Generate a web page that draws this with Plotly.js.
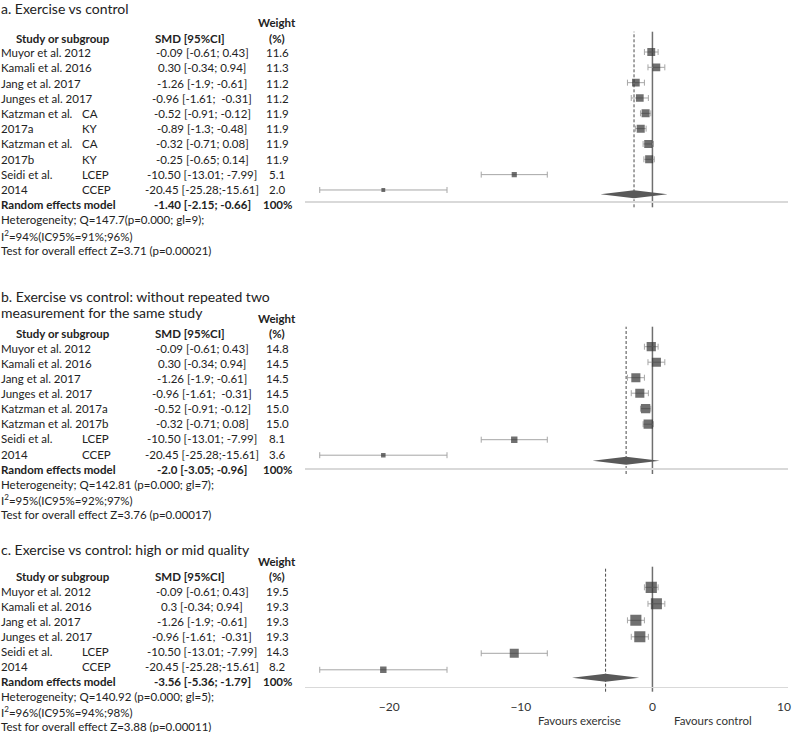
<!DOCTYPE html>
<html>
<head>
<meta charset="utf-8">
<script src="https://cdn.plot.ly/plotly-3.0.1.min.js"></script>
<style>html,body{margin:0;padding:0;background:#fff}#chart{width:800px;height:732px}</style>
</head>
<body>
<div id="chart"></div>
<script>
// ---------------- DATA ----------------
// Panel a
const aTitle = ["a. Exercise vs control"];
const aStudy = ["Muyor et al. 2012","Kamali et al. 2016","Jang et al. 2017","Junges et al. 2017","Katzman et al.","2017a","Katzman et al.","2017b","Seidi et al.","2014"];
const aSub = ["","","","","CA","KY","CA","KY","LCEP","CCEP"];
const aSMD = [-0.09,0.30,-1.26,-0.96,-0.52,-0.89,-0.32,-0.25,-10.50,-20.45];
const aLo  = [-0.61,-0.34,-1.9,-1.61,-0.91,-1.3,-0.71,-0.65,-13.01,-25.28];
const aHi  = [0.43,0.94,-0.61,-0.31,-0.12,-0.48,0.08,0.14,-7.99,-15.61];
const aCI  = ["-0.09 [-0.61; 0.43]","0.30 [-0.34; 0.94]","-1.26 [-1.9; -0.61]","-0.96 [-1.61; \u00a0-0.31]","-0.52 [-0.91; -0.12]","-0.89 [-1.3; -0.48]","-0.32 [-0.71; 0.08]","-0.25 [-0.65; 0.14]","-10.50 [-13.01; -7.99]","-20.45 [-25.28;-15.61]"];
const aWeight = [11.6,11.3,11.2,11.2,11.9,11.9,11.9,11.9,5.1,2.0];
const aPooled = -1.40;
const aPooledCI = "-1.40 [-2.15; -0.66]";
const aStats = ["Heterogeneity; Q=147.7(p=0.000; gl=9);","I<sup>2</sup>=94%(IC95%=91%;96%)","Test for overall effect Z=3.71 (p=0.00021)"];

// Panel b
const bTitle = ["b. Exercise vs control: without repeated two","measurement for the same study"];
const bStudy = ["Muyor et al. 2012","Kamali et al. 2016","Jang et al. 2017","Junges et al. 2017","Katzman et al. 2017a","Katzman et al. 2017b","Seidi et al.","2014"];
const bSub = ["","","","","","","LCEP","CCEP"];
const bSMD = [-0.09,0.30,-1.26,-0.96,-0.52,-0.32,-10.50,-20.45];
const bLo  = [-0.61,-0.34,-1.9,-1.61,-0.91,-0.71,-13.01,-25.28];
const bHi  = [0.43,0.94,-0.61,-0.31,-0.12,0.08,-7.99,-15.61];
const bCI  = ["-0.09 [-0.61; 0.43]","0.30 [-0.34; 0.94]","-1.26 [-1.9; -0.61]","-0.96 [-1.61; \u00a0-0.31]","-0.52 [-0.91; -0.12]","-0.32 [-0.71; 0.08]","-10.50 [-13.01; -7.99]","-20.45 [-25.28;-15.61]"];
const bWeight = [14.8,14.5,14.5,14.5,15.0,15.0,8.1,3.6];
const bPooled = -2.0;
const bPooledCI = "-2.0 [-3.05; -0.96]";
const bStats = ["Heterogeneity; Q=142.81 (p=0.000; gl=7);","I<sup>2</sup>=95%(IC95%=92%;97%)","Test for overall effect Z=3.76 (p=0.00017)"];

// Panel c
const cTitle = ["c. Exercise vs control: high or mid quality"];
const cStudy = ["Muyor et al. 2012","Kamali et al. 2016","Jang et al. 2017","Junges et al. 2017","Seidi et al.","2014"];
const cSub = ["","","","","LCEP","CCEP"];
const cSMD = [-0.09,0.3,-1.26,-0.96,-10.50,-20.45];
const cLo  = [-0.61,-0.34,-1.9,-1.61,-13.01,-25.28];
const cHi  = [0.43,0.94,-0.61,-0.31,-7.99,-15.61];
const cCI  = ["-0.09 [-0.61; 0.43]","0.3 [-0.34; 0.94]","-1.26 [-1.9; -0.61]","-0.96 [-1.61; \u00a0-0.31]","-10.50 [-13.01; -7.99]","-20.45 [-25.28;-15.61]"];
const cWeight = [19.5,19.3,19.3,19.3,14.3,8.2];
const cPooled = -3.56;
const cPooledCI = "-3.56 [-5.36; -1.79]";
const cStats = ["Heterogeneity; Q=140.92 (p=0.000; gl=5);","I<sup>2</sup>=96%(IC95%=94%;98%)","Test for overall effect Z=3.88 (p=0.00011)"];

const xTicks = [-20,-10,0,10];
const favourLabels = ["Favours exercise","Favours control"];

// ---------------- LAYOUT / STYLE ----------------
const W = 800, H = 732;
const FONT = "Lato, 'Open Sans', sans-serif";
const TXT = "#222222";
const BODY = 11.5, TITLE = 14;
const X0 = 305, X1 = 788;            // plot pixel extent
const XR = [-26.4, 10.3];

const panels = [
  {title:aTitle, study:aStudy, sub:aSub, smd:aSMD, lo:aLo, hi:aHi, ci:aCI, w:aWeight, pooled:aPooled, pooledCI:aPooledCI, stats:aStats,
   titleY:[8], weightY:22.7, headY:38.8, rowY0:52.7, rowDy:15.2, mk1:52, mkDy:15.33, top:31.7, bot:207.3, axisY:201, diamY:194.3, ticks:false},
  {title:bTitle, study:bStudy, sub:bSub, smd:bSMD, lo:bLo, hi:bHi, ci:bCI, w:bWeight, pooled:bPooled, pooledCI:bPooledCI, stats:bStats,
   titleY:[296.7,312.7], weightY:318.3, headY:333.3, rowY0:348.3, rowDy:15.1, mk1:346.7, mkDy:15.5, top:326.7, bot:474, axisY:468.3, diamY:460.7, ticks:false},
  {title:cTitle, study:cStudy, sub:cSub, smd:cSMD, lo:cLo, hi:cHi, ci:cCI, w:cWeight, pooled:cPooled, pooledCI:cPooledCI, stats:cStats,
   titleY:[549.3], weightY:561.7, headY:576.7, rowY0:591.5, rowDy:14.95, mk1:587.3, mkDy:16.5, top:566.7, bot:691.7, axisY:686.7, diamY:677.7, ticks:true}
];

const STUDY_X = 0, SUB_X = 80.5, SMD_X = 202, SMD_HEAD_X = 190, WEIGHT_X = 277, STUDY_HEAD_X = 63;

const traces = [];
const annotations = [];
const shapes = [];
const layout = {
  width: W, height: H,
  margin: {l:0, r:0, t:0, b:0},
  paper_bgcolor: "#ffffff", plot_bgcolor: "rgba(0,0,0,0)",
  showlegend: false,
  font: {family: FONT, size: BODY, color: TXT},
};

function ann(text, px, py, anchor, opt) {
  opt = opt || {};
  annotations.push({
    xref:"paper", yref:"paper", x:px/W, y:1-py/H, xanchor:anchor, yanchor:"middle",
    text:text, showarrow:false, borderpad:0,
    font:{family:FONT, size:opt.size||BODY, color:opt.color||TXT}
  });
}

panels.forEach((p, idx) => {
  const n = idx + 1;
  const xa = n === 1 ? "x" : "x" + n;
  const ya = n === 1 ? "y" : "y" + n;
  const N = p.smd.length;
  const rows = p.smd.map((_, i) => i + 1);

  // axes
  const yTopVal = 1 + (p.top - p.mk1) / p.mkDy;
  const yBotVal = 1 + (p.bot - p.mk1) / p.mkDy;
  layout["xaxis" + (n === 1 ? "" : n)] = {
    domain: [X0/W, X1/W], range: XR, anchor: "free", position: 1 - p.axisY/H,
    showline: true, linecolor: "#d9d9d9", linewidth: 1.5,
    showgrid: false, zeroline: false, ticks: "",
    tickvals: xTicks, showticklabels: p.ticks, ticklabelstandoff: 8,
    tickfont: {family: FONT, size: 12, color: "#333333"},
    fixedrange: true
  };
  layout["yaxis" + (n === 1 ? "" : n)] = {
    domain: [1 - p.bot/H, 1 - p.top/H], range: [yBotVal, yTopVal],
    visible: false, anchor: xa, fixedrange: true
  };

  // reference lines
  shapes.push({type:"line", xref:xa, yref:ya + " domain", x0:0, x1:0, y0:0, y1:1, layer:"below",
               line:{color:"#6f6f6f", width:1.5}});
  shapes.push({type:"line", xref:xa, yref:ya + " domain", x0:p.pooled, x1:p.pooled, y0:0, y1:1, layer:"below",
               line:{color:"#4a4a4a", width:1, dash:"3px,2px"}});

  // pooled diamond
  const hw = 2.55, hh = 4 / p.mkDy;
  const dy = 1 + (p.diamY - p.mk1) / p.mkDy;
  traces.push({
    type:"scatter", mode:"lines", xaxis:xa, yaxis:ya, hoverinfo:"skip",
    x:[p.pooled - hw, p.pooled, p.pooled + hw, p.pooled, p.pooled - hw],
    y:[dy, dy - hh, dy, dy + hh, dy],
    fill:"toself", fillcolor:"#595959", line:{width:0, color:"#595959"}
  });

  // study points
  traces.push({
    type:"scatter", mode:"markers", xaxis:xa, yaxis:ya,
    x:p.smd, y:rows,
    marker:{symbol:"square", size:p.w.map(w => 3 + 0.42*w), color:"#333333", line:{width:0}},
    error_x:{type:"data", symmetric:false,
      array:p.hi.map((h,i) => h - p.smd[i]),
      arrayminus:p.lo.map((l,i) => p.smd[i] - l),
      color:"#a6a6a6", thickness:1, width:3}
  });

  // text table
  p.title.forEach((t, i) => ann(t, 0, p.titleY[i], "left", {size:TITLE}));
  ann("<b>Weight</b>", WEIGHT_X, p.weightY, "center");
  ann("<b>Study or subgroup</b>", STUDY_HEAD_X, p.headY, "center");
  ann("<b>SMD [95%CI]</b>", SMD_HEAD_X, p.headY, "center");
  ann("<b>(%)</b>", WEIGHT_X, p.headY, "center");
  for (let i = 0; i < N; i++) {
    const yy = p.rowY0 + p.rowDy * i;
    ann(p.study[i], STUDY_X, yy, "left");
    if (p.sub[i]) ann(p.sub[i], SUB_X, yy, "left");
    ann(p.ci[i], SMD_X, yy, "center");
    ann(p.w[i].toFixed(1), WEIGHT_X, yy, "center");
  }
  const ry = p.rowY0 + p.rowDy * N;
  ann("<b>Random effects model</b>", STUDY_X, ry, "left");
  ann("<b>" + p.pooledCI + "</b>", SMD_X, ry, "center");
  ann("<b>100%</b>", WEIGHT_X, ry, "center");
  p.stats.forEach((s, k) => ann(s, STUDY_X, p.rowY0 + p.rowDy * (N + 1 + k), "left"));
});

// favours labels
ann(favourLabels[0], 579, 720, "center", {color:"#333333"});
ann(favourLabels[1], 713, 720, "center", {color:"#333333"});

layout.annotations = annotations;
layout.shapes = shapes;

Plotly.newPlot("chart", traces, layout, {staticPlot:true, displayModeBar:false});
</script>
</body>
</html>
